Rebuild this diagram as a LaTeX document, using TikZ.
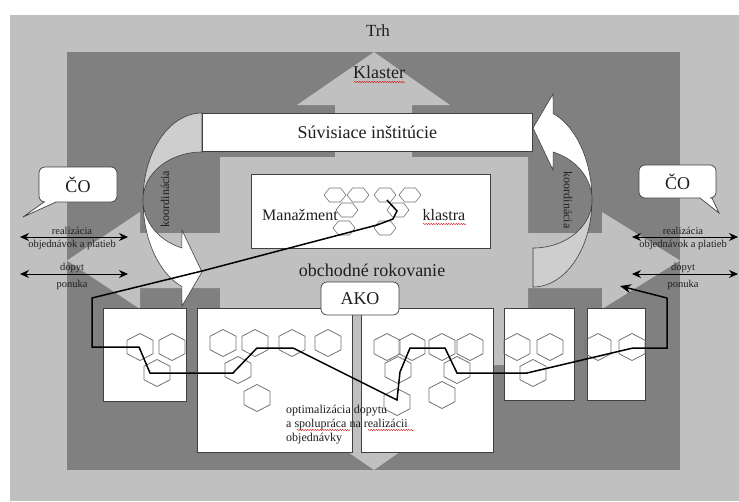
\documentclass[tikz,border=0pt]{standalone}
\usepackage{fontspec}
\setmainfont{Liberation Serif}
\usetikzlibrary{arrows.meta,decorations.pathmorphing}
\definecolor{lgray}{RGB}{192,192,192}
\definecolor{dgray}{RGB}{128,128,128}
\definecolor{cres}{RGB}{206,206,206}
\definecolor{edgec}{RGB}{64,64,64}
\definecolor{hexc}{RGB}{115,115,115}
\definecolor{txtc}{RGB}{30,30,30}
\newcommand\mycurvedarrow{%
    \path[fill=cres,draw=edgec,line width=0.6pt]
      plot[domain=0:90,samples=40,variable=\t] ({202-59*sin(\t)},{200-87*cos(\t)})
      -- plot[domain=90:0,samples=40,variable=\t] ({202-59*sin(\t)},{200-48*cos(\t)}) -- cycle;
    \path[fill=white,draw=edgec,line width=0.6pt]
      plot[domain=0:70,samples=40,variable=\t] ({202-59*cos(\t)},{200+92*sin(\t)})
      -- (182,306) -- (202,272) -- (182,230)
      -- plot[domain=70:0,samples=40,variable=\t] ({202-59*cos(\t)},{200+51*sin(\t)}) -- cycle;
}
\begin{document}
\begin{tikzpicture}[x=1pt,y=-1pt,line join=miter,
  boxst/.style={fill=white,draw=edgec,line width=0.7pt,inner sep=0pt,anchor=north west},
  hexline/.style={draw=hexc,line width=0.8pt},
  flow/.style={draw=black,line width=1.5pt,line join=miter},
  dbl/.style={draw=black,line width=0.9pt,{Stealth[length=9pt,width=8pt]}-{Stealth[length=9pt,width=8pt]}},
  txt/.style={text=txtc,inner sep=0pt},
  big/.style={font=\fontsize{18}{20}\selectfont},
  mid/.style={font=\fontsize{16}{18}\selectfont},
  sml/.style={font=\fontsize{12}{14}\selectfont},
  tiny/.style={font=\fontsize{10.5}{12}\selectfont},
  squig/.style={draw=red!85!black,line width=0.45pt,decorate,decoration={snake,amplitude=0.6pt,segment length=2.5pt}},
  callout/.style={fill=white,draw=edgec,line width=0.7pt},
  hexa/.pic={\path[hexline] (0,-13.5) -- (13,-6.75) -- (13,6.75) -- (0,13.5) -- (-13,6.75) -- (-13,-6.75) -- cycle;},
  hexs/.pic={\path[hexline,line width=0.6pt] (-11,0) -- (-5.5,-7) -- (5.5,-7) -- (11,0) -- (5.5,7) -- (-5.5,7) -- cycle;}
]
\useasboundingbox (0,0) rectangle (739,501);
\fill[white] (0,0) rectangle (739,501);
% background layers
\fill[lgray] (10,15) rectangle (739,501);
\fill[dgray] (67,52) rectangle (680,470);
% light quad arrow
\fill[lgray] (374,52) -- (450,105) -- (412,105) -- (412,157) -- (528,157) -- (528,233) -- (602,233) -- (602,212)
  -- (680,260.5) -- (602,309) -- (602,288) -- (528,288) -- (528,365) -- (412,365) -- (412,417) -- (450,417)
  -- (374,470) -- (297,417) -- (335,417) -- (335,365) -- (220,365) -- (220,288) -- (140,288) -- (140,309)
  -- (67,260.5) -- (140,212) -- (140,233) -- (220,233) -- (220,157) -- (335,157) -- (335,105) -- (297,105) -- cycle;

\node[txt,font=\fontsize{17}{19}\selectfont] (trh) at (378,31) {Trh};
\node[txt,big] (klaster) at (379,72) {Klaster};
\draw[squig] (354,82) -- (405,82);

% curved arrows
\mycurvedarrow
\begin{scope}[rotate around={180:(367.5,200)}]
\mycurvedarrow
\end{scope}
\node[txt,sml,rotate=90] (koorL) at (165,199) {koordinácia};
\node[txt,sml,rotate=-90] (koorR) at (568,200) {koordinácia};

% related institutions
\node[boxst,minimum width=330pt,minimum height=38pt] (suv) at (202,113) {};
\node[txt,big] at (suv.center) {Súvisiace inštitúcie};

% cluster management
\node[boxst,minimum width=239pt,minimum height=74pt] (man) at (251,174) {};
\foreach \p in {(335,195),(358,195),(385,195),(410,195),(347,210),(398,210),(344,228),(385,228)}
  \pic at \p {hexs};
\node[txt,mid] (manz) at (300,215) {Manažment};
\node[txt,mid] (kl) at (444,215) {klastra};
\draw[squig] (423,224) -- (466,224);

\node[txt,big] (obch) at (372,270) {obchodné rokovanie};

% bottom boxes
\node[boxst,minimum width=83pt,minimum height=93pt] (bA) at (103,308) {};
\node[boxst,minimum width=155pt,minimum height=144pt] (bB) at (197,308) {};
\node[boxst,minimum width=132pt,minimum height=144pt] (bC) at (361,308) {};
\node[boxst,minimum width=70pt,minimum height=92pt] (bD) at (504,308) {};
\node[boxst,minimum width=58pt,minimum height=92pt] (bE) at (587,308) {};

\foreach \p in {(140,347),(172,347),(157,373),
  (223,343),(255,343),(292,343),(328,343),(238,370),(257,398),
  (387,347),(412,347),(442,347),(470,347),(398,370),(457,370),(397,402),(442,395),
  (517,347),(550,347),(533,373),
  (598,347),(632,347)}
  \pic at \p {hexa};

\node[txt,sml,anchor=base west] (t1) at (286,413) {optimalizácia dopytu};
\node[txt,sml,anchor=base west] (t2) at (286,427) {a spolupráca na realizácii};
\node[txt,sml,anchor=base west] (t3) at (286,441) {objednávky};
\draw[squig] (297,430) -- (350,430);
\draw[squig] (368,430) -- (414,430);

% AKO callout
\node[fill=white,draw=edgec,line width=0.7pt,rounded corners=6pt,minimum width=78pt,minimum height=33pt,inner sep=0pt] (ako) at (360,298.5) {};
\node[txt,big] at (ako.center) {AKO};

% flow line
\coordinate (f0) at (387,200);
\coordinate (f1) at (397,211);
\coordinate (f2) at (393,219);
\coordinate (f3) at (377,225);
\coordinate (tipL) at (202,271);
\draw[flow] (f0) -- (f1) -- (f2) -- (f3) -- (tipL) -- (92,298) -- (92,347) -- (139,347) -- (150,373) -- (233,373)
  -- (257,348) -- (293,348) -- (397,400) -- (400,372) -- (410,348) -- (445,348) -- (457,373) -- (527,373)
  -- (633,348) -- (667,348) -- (667,298) coordinate (fend);
\coordinate (tipR) at (620,286);
\draw[flow,-{Stealth[length=11pt,width=9pt]}] (fend) -- (tipR);

% CO callouts
\draw[callout] (56,202) [rounded corners=6pt] -- (117,202) -- (117,167) -- (39,167) -- (39,202) [sharp corners] -- (44,202) -- (23,217) -- cycle;
\node[txt,big] (coL) at (78,184.5) {ČO};
\draw[callout] (700,198) [rounded corners=6pt] -- (639,198) -- (639,165) -- (716,165) -- (716,198) [sharp corners] -- (712,198) -- (719,213) -- cycle;
\node[txt,big] (coR) at (677.5,181.5) {ČO};

% double arrows left
\coordinate (la1) at (20,237); \coordinate (lb1) at (128,237);
\coordinate (la2) at (20,274); \coordinate (lb2) at (128,274);
\draw[dbl] (la1) -- (lb1);
\draw[dbl] (la2) -- (lb2);
\node[txt,tiny] at (72,231) {realizácia};
\node[txt,tiny] at (72,245) {objednávok a platieb};
\node[txt,tiny] at (72,268) {dopyt};
\node[txt,tiny] at (72,285) {ponuka};
% double arrows right
\coordinate (ra1) at (632,237); \coordinate (rb1) at (738,237);
\coordinate (ra2) at (632,274); \coordinate (rb2) at (738,274);
\draw[dbl] (ra1) -- (rb1);
\draw[dbl] (ra2) -- (rb2);
\node[txt,tiny] at (683,231) {realizácia};
\node[txt,tiny] at (683,245) {objednávok a platieb};
\node[txt,tiny] at (683,268) {dopyt};
\node[txt,tiny] at (683,285) {ponuka};
\end{tikzpicture}
\end{document}
